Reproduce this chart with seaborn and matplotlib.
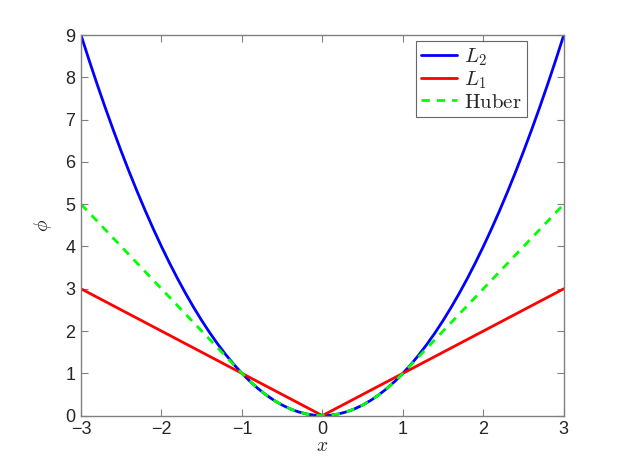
import matplotlib
matplotlib.use("Agg")
import matplotlib.pyplot as plt
import seaborn as sns
import pandas as pd

x_vals = [-3.0, -2.9, -2.8, -2.7, -2.6, -2.5, -2.4, -2.3, -2.2, -2.1, -2.0,
          -1.9, -1.8, -1.7, -1.6, -1.5, -1.4, -1.3, -1.2, -1.1, -1.0,
          -0.9, -0.8, -0.7, -0.6, -0.5, -0.4, -0.3, -0.2, -0.1, 0.0,
          0.1, 0.2, 0.3, 0.4, 0.5, 0.6, 0.7, 0.8, 0.9, 1.0,
          1.1, 1.2, 1.3, 1.4, 1.5, 1.6, 1.7, 1.8, 1.9, 2.0,
          2.1, 2.2, 2.3, 2.4, 2.5, 2.6, 2.7, 2.8, 2.9, 3.0]
l2_vals = [9.0, 8.41, 7.84, 7.29, 6.76, 6.25, 5.76, 5.29, 4.84, 4.41, 4.0,
           3.61, 3.24, 2.89, 2.56, 2.25, 1.96, 1.69, 1.44, 1.21, 1.0,
           0.81, 0.64, 0.49, 0.36, 0.25, 0.16, 0.09, 0.04, 0.01, 0.0,
           0.01, 0.04, 0.09, 0.16, 0.25, 0.36, 0.49, 0.64, 0.81, 1.0,
           1.21, 1.44, 1.69, 1.96, 2.25, 2.56, 2.89, 3.24, 3.61, 4.0,
           4.41, 4.84, 5.29, 5.76, 6.25, 6.76, 7.29, 7.84, 8.41, 9.0]
l1_vals = [3.0, 2.9, 2.8, 2.7, 2.6, 2.5, 2.4, 2.3, 2.2, 2.1, 2.0,
           1.9, 1.8, 1.7, 1.6, 1.5, 1.4, 1.3, 1.2, 1.1, 1.0,
           0.9, 0.8, 0.7, 0.6, 0.5, 0.4, 0.3, 0.2, 0.1, 0.0,
           0.1, 0.2, 0.3, 0.4, 0.5, 0.6, 0.7, 0.8, 0.9, 1.0,
           1.1, 1.2, 1.3, 1.4, 1.5, 1.6, 1.7, 1.8, 1.9, 2.0,
           2.1, 2.2, 2.3, 2.4, 2.5, 2.6, 2.7, 2.8, 2.9, 3.0]
huber_vals = [5.0, 4.8, 4.6, 4.4, 4.2, 4.0, 3.8, 3.6, 3.4, 3.2, 3.0,
              2.8, 2.6, 2.4, 2.2, 2.0, 1.8, 1.6, 1.4, 1.2, 1.0,
              0.81, 0.64, 0.49, 0.36, 0.25, 0.16, 0.09, 0.04, 0.01, 0.0,
              0.01, 0.04, 0.09, 0.16, 0.25, 0.36, 0.49, 0.64, 0.81, 1.0,
              1.2, 1.4, 1.6, 1.8, 2.0, 2.2, 2.4, 2.6, 2.8, 3.0,
              3.2, 3.4, 3.6, 3.8, 4.0, 4.2, 4.4, 4.6, 4.8, 5.0]
x_ticks = [-3, -2, -1, 0, 1, 2, 3]
y_ticks = [0, 1, 2, 3, 4, 5, 6, 7, 8, 9]

sns.set_style("white")
plt.rcParams['font.family'] = ['Liberation Sans', 'DejaVu Sans']
plt.rcParams['mathtext.fontset'] = 'cm'

df = pd.DataFrame({"x": x_vals, "L2": l2_vals, "L1": l1_vals, "Huber": huber_vals})

fig = plt.figure(figsize=(6.23, 4.67), dpi=100)
ax = fig.add_axes([0.13, 0.11, 0.775, 0.815])

sns.lineplot(data=df, x="x", y="L2", ax=ax, color=(0, 0, 1), lw=2, label=r"$L_2$")
sns.lineplot(data=df, x="x", y="L1", ax=ax, color=(1, 0, 0), lw=2, label=r"$L_1$")
sns.lineplot(data=df, x="x", y="Huber", ax=ax, color=(0, 1, 0), lw=2, ls=(0, (3, 2.5)),
             label=r"$\mathrm{Huber}$")

ax.set_xlim(-3, 3)
ax.set_ylim(0, 9)
ax.set_xticks(x_ticks)
ax.set_yticks(y_ticks)
ax.set_xticklabels([str(t).replace('-', '\u2212') for t in x_ticks])
ax.set_xlabel(r"$x$", fontsize=14, labelpad=0)
ax.set_ylabel(r"$\phi$", fontsize=14, labelpad=8)

gray = '#808080'
for s in ax.spines.values():
    s.set_visible(True)
    s.set_color(gray)
    s.set_linewidth(1)
ax.tick_params(direction='in', length=5, width=0.8, color=gray, labelsize=13,
               top=True, right=True, bottom=True, left=True, pad=4)

leg = ax.legend(loc='upper right', bbox_to_anchor=(0.923, 0.984), fontsize=15,
                frameon=True, fancybox=False, handlelength=1.7, handletextpad=0.35,
                borderpad=0.25, labelspacing=0.08, borderaxespad=0.0)
leg.get_frame().set_edgecolor('#404040')
leg.get_frame().set_linewidth(0.8)

fig.savefig("out.png", dpi=100)
